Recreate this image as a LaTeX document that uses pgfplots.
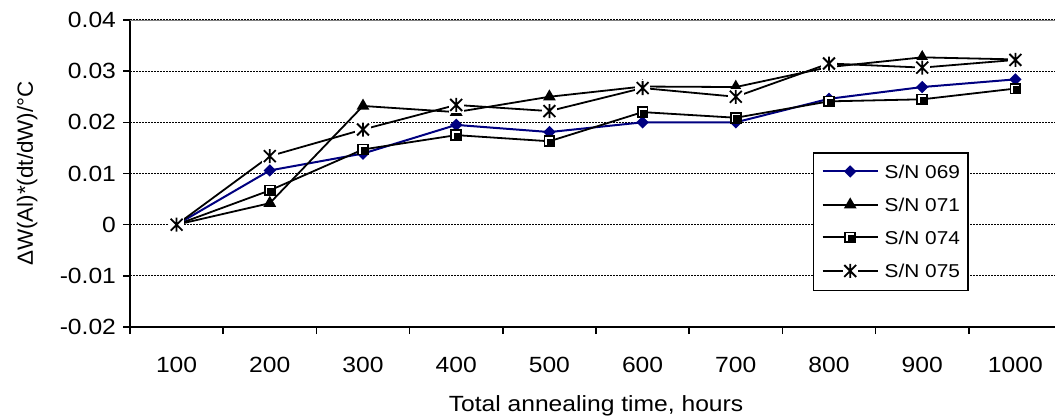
\documentclass[border=0pt]{standalone}
\usepackage{fontspec}
\setmainfont{Liberation Sans}[FakeStretch=1.12]
\newfontfamily\ylabfont{Liberation Sans}[FakeStretch=1.02]
\usepackage{pgfplots}
\pgfplotsset{compat=1.18}
\definecolor{xlnavy}{RGB}{0,0,128}
\definecolor{bordergray}{RGB}{128,128,128}

\pgfdeclareplotmark{xlsdiamond}{%
 \pgfpathmoveto{\pgfqpoint{0pt}{\pgfplotmarksize}}%
 \pgfpathlineto{\pgfqpoint{\pgfplotmarksize}{0pt}}%
 \pgfpathlineto{\pgfqpoint{0pt}{-\pgfplotmarksize}}%
 \pgfpathlineto{\pgfqpoint{-\pgfplotmarksize}{0pt}}%
 \pgfpathclose\pgfusepathqfill}

\pgfdeclareplotmark{xlstri}{%
 \pgfpathmoveto{\pgfqpoint{0pt}{\pgfplotmarksize}}%
 \pgfpathlineto{\pgfqpoint{0.866\pgfplotmarksize}{-0.5\pgfplotmarksize}}%
 \pgfpathlineto{\pgfqpoint{-0.866\pgfplotmarksize}{-0.5\pgfplotmarksize}}%
 \pgfpathclose\pgfusepathqfill}

\pgfdeclareplotmark{xlssquare}{%
 \pgfsetfillcolor{black}%
 \pgfpathrectangle{\pgfqpoint{-\pgfplotmarksize}{-\pgfplotmarksize}}{\pgfqpoint{2\pgfplotmarksize}{2\pgfplotmarksize}}%
 \pgfusepathqfill
 \pgfsetfillcolor{white}%
 \pgfpathrectangle{\pgfqpoint{-0.7\pgfplotmarksize}{-0.7\pgfplotmarksize}}{\pgfqpoint{1.4\pgfplotmarksize}{1.4\pgfplotmarksize}}%
 \pgfusepathqfill
 \pgfsetfillcolor{black}%
 \pgfpathrectangle{\pgfqpoint{-0.4\pgfplotmarksize}{-0.7\pgfplotmarksize}}{\pgfqpoint{1.1\pgfplotmarksize}{1.1\pgfplotmarksize}}%
 \pgfusepathqfill}

\pgfdeclareplotmark{xlsstar}{%
 \pgfsetfillcolor{white}%
 \pgfpathrectangle{\pgfqpoint{-1.1\pgfplotmarksize}{-1.1\pgfplotmarksize}}{\pgfqpoint{2.2\pgfplotmarksize}{2.2\pgfplotmarksize}}%
 \pgfusepathqfill
 \pgfpathmoveto{\pgfqpoint{-0.85\pgfplotmarksize}{-0.85\pgfplotmarksize}}%
 \pgfpathlineto{\pgfqpoint{0.85\pgfplotmarksize}{0.85\pgfplotmarksize}}%
 \pgfpathmoveto{\pgfqpoint{-0.85\pgfplotmarksize}{0.85\pgfplotmarksize}}%
 \pgfpathlineto{\pgfqpoint{0.85\pgfplotmarksize}{-0.85\pgfplotmarksize}}%
 \pgfpathmoveto{\pgfqpoint{0pt}{-\pgfplotmarksize}}%
 \pgfpathlineto{\pgfqpoint{0pt}{\pgfplotmarksize}}%
 \pgfusepathqstroke}

\newcommand{\lgf}{\fontsize{9.3}{11}\selectfont}

\begin{document}
\begin{tikzpicture}
\begin{axis}[
  scale only axis,
  width=466pt, height=153.5pt,
  xmin=0.5, xmax=10.5,
  ymin=-0.02, ymax=0.04,
  scaled y ticks=false,
  axis x line*=bottom, axis y line*=left,
  axis line style={line width=1pt, black},
  tick align=outside,
  major tick length=3.5pt,
  tick style={black, line width=0.8pt},
  xtick={0.5,1.5,...,9.5},
  xticklabels={},
  extra x ticks={1,2,3,4,5,6,7,8,9,10},
  extra x tick labels={100,200,300,400,500,600,700,800,900,1000},
  extra x tick style={major tick length=0pt, grid=none},
  xticklabel style={anchor=base, yshift=-22.7pt},
  ytick={-0.02,-0.01,0,0.01,0.02,0.03,0.04},
  yticklabels={-0.02,-0.01,0,0.01,0.02,0.03,0.04},
  ymajorgrids,
  major grid style={black, line width=0.65pt, dash pattern=on 1pt off 0.5pt},
  tick label style={font=\fontsize{11}{13}\selectfont},
  label style={font=\fontsize{11}{13}\selectfont},
  xlabel={Total annealing time, hours},
  xlabel style={at={(rel axis cs:0.5,-0.2762)}, anchor=base},
  ylabel={\ylabfont ΔW(Al)*(dt/dW)/°C},
  ylabel style={at={(rel axis cs:-0.10408,0.5)}, anchor=base, rotate=0},
  legend cell align=left,
  legend image code/.code={\draw[mark repeat=2,mark phase=2,#1] plot coordinates {(0pt,0pt) (13.75pt,0pt) (27.5pt,0pt)};},
  legend style={at={(rel axis cs:0.7328,0.570)}, anchor=north west,
    draw=black, line width=0.75pt, fill=white,
    inner xsep=4pt, inner ysep=6pt, row sep=9.6pt, column sep=3pt,
    font=\lgf,
    nodes={inner sep=0pt, text height=6.7pt, text depth=0pt}},
]
\addplot[xlnavy, line width=1pt, mark=xlsdiamond, mark size=3.1pt,
  mark options={fill=xlnavy}]
  coordinates {(1,0) (2,0.0106) (3,0.0139) (4,0.0195) (5,0.0181) (6,0.0200) (7,0.0200) (8,0.0246) (9,0.0269) (10,0.0284)};
\addlegendentry{\lgf S/N 069}
\addplot[black, line width=0.9pt, mark=xlstri, mark size=3.7pt,
  mark options={fill=black}]
  coordinates {(1,0) (2,0.0042) (3,0.0232) (4,0.0220) (5,0.0250) (6,0.0270) (7,0.0269) (8,0.0308) (9,0.0327) (10,0.0323)};
\addlegendentry{\lgf S/N 071}
\addplot[black, line width=0.9pt, mark=xlssquare, mark size=2.9pt]
  coordinates {(1,0) (2,0.0067) (3,0.0147) (4,0.0175) (5,0.0163) (6,0.0220) (7,0.0209) (8,0.0241) (9,0.0245) (10,0.0266)};
\addlegendentry{\lgf S/N 074}
\addplot[black, line width=0.9pt, mark=xlsstar, mark size=3.5pt,
  mark options={line width=0.9pt}]
  coordinates {(1,0) (2,0.0134) (3,0.0186) (4,0.0234) (5,0.0222) (6,0.0267) (7,0.0250) (8,0.0315) (9,0.0307) (10,0.0322)};
\addlegendentry{\lgf S/N 075}
\draw[bordergray, line width=0.8pt] (rel axis cs:0,1) -- (rel axis cs:1,1);
\end{axis}
\pgfresetboundingbox
\path[use as bounding box] (-65pt,-46pt) rectangle (462.5pt,163.5pt);
\end{tikzpicture}
\end{document}
